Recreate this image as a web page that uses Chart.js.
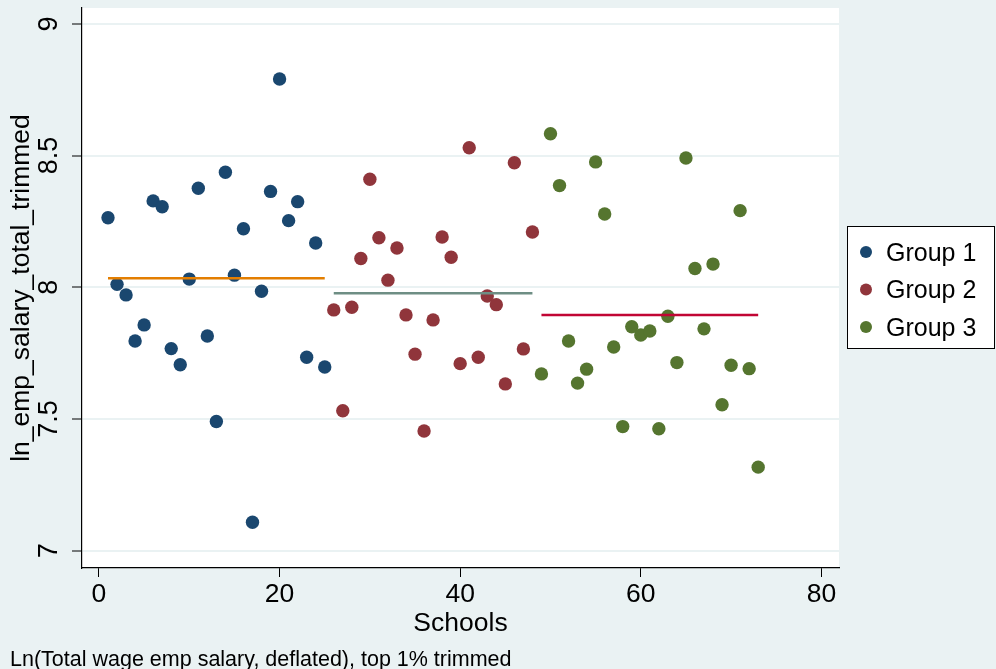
<!DOCTYPE html>
<html lang="en">
<head>
<meta charset="UTF-8" />
<title>ln_emp_salary_total_trimmed by school</title>
<script src="https://cdn.jsdelivr.net/npm/chart.js"></script>
<style>
  body { margin: 0; background: #eaf2f3; }
  #wrap { width: 996px; height: 669px; }
</style>
</head>
<body>
<div id="wrap"><canvas id="scatterChart" width="996" height="669"></canvas></div>
<script>
// schools 1-25, 26-48, 49-73
const group1 = [8.264, 8.011, 7.971, 7.796, 7.857, 8.328, 8.306, 7.767, 7.706, 8.031,
  8.376, 7.815, 7.490, 8.437, 8.046, 8.222, 7.108, 7.985, 8.364, 8.791,
  8.253, 8.325, 7.734, 8.168, 7.697];
const group2 = [7.914, 7.531, 7.924, 8.109, 8.410, 8.188, 8.027, 8.149, 7.895, 7.746,
  7.454, 7.876, 8.191, 8.114, 7.710, 8.530, 7.734, 7.967, 7.934, 7.633,
  8.473, 7.766, 8.210];
const group3 = [7.671, 8.583, 8.386, 7.796, 7.636, 7.689, 8.476, 8.278, 7.773, 7.471,
  7.850, 7.819, 7.834, 7.463, 7.890, 7.714, 8.491, 8.071, 7.842, 8.088,
  7.554, 7.704, 8.291, 7.691, 7.317];
const groupStart = [1, 26, 49];
const groupMeans = [8.034, 7.977, 7.895];
const groupNames = ["Group 1", "Group 2", "Group 3"];
const xTicks = [0, 20, 40, 60, 80];
const yTicks = [7, 7.5, 8, 8.5, 9];

const dotColors = ["#1a476f", "#90353b", "#55752f"];
const meanColors = ["#e37e00", "#6e8e84", "#c10534"];
const FONT = "'Liberation Sans', Arial, sans-serif";

const groups = [group1, group2, group3];
const datasets = [];
groups.forEach((vals, g) => {
  const pts = vals.map((v, i) => ({ x: groupStart[g] + i, y: v }));
  datasets.push({
    type: "scatter",
    label: groupNames[g],
    data: pts,
    backgroundColor: dotColors[g],
    borderWidth: 0,
    pointRadius: 6.7,
    order: 2,
  });
  datasets.push({
    type: "line",
    label: groupNames[g] + " mean",
    data: [
      { x: pts[0].x, y: groupMeans[g] },
      { x: pts[pts.length - 1].x, y: groupMeans[g] },
    ],
    borderColor: meanColors[g],
    borderWidth: 2.5,
    pointRadius: 0,
    fill: false,
    order: 1,
  });
});

const stataBackground = {
  id: "stataBackground",
  beforeDraw(chart) {
    const { ctx, chartArea } = chart;
    ctx.save();
    ctx.fillStyle = "#eaf2f3";
    ctx.fillRect(0, 0, chart.width, chart.height);
    ctx.fillStyle = "#ffffff";
    ctx.fillRect(chartArea.left, chartArea.top,
      chartArea.right - chartArea.left, chartArea.bottom - chartArea.top);
    ctx.restore();
  },
};

const extras = {
  id: "extras",
  afterDraw(chart) {
    const { ctx } = chart;
    const yScale = chart.scales.y;
    ctx.save();
    ctx.fillStyle = "#000";

    // rotated y tick labels
    ctx.font = "27px " + FONT;
    ctx.textAlign = "center";
    ctx.textBaseline = "alphabetic";
    yTicks.forEach((v) => {
      ctx.save();
      ctx.translate(57, yScale.getPixelForValue(v));
      ctx.rotate(-Math.PI / 2);
      ctx.fillText(String(v), 0, 0);
      ctx.restore();
    });

    // note
    ctx.textAlign = "left";
    ctx.font = "21.5px " + FONT;
    ctx.fillText("Ln(Total wage emp salary, deflated), top 1% trimmed", 10, 666);

    // legend
    const bx = 847.5, by = 226.5, bw = 147, bh = 122;
    ctx.fillStyle = "#fff";
    ctx.fillRect(bx, by, bw, bh);
    ctx.strokeStyle = "#000";
    ctx.lineWidth = 1;
    ctx.strokeRect(bx, by, bw, bh);
    groupNames.forEach((name, i) => {
      const cy = 252 + i * 37.5;
      ctx.fillStyle = dotColors[i];
      ctx.beginPath();
      ctx.arc(866, cy, 6, 0, Math.PI * 2);
      ctx.fill();
      ctx.fillStyle = "#000";
      ctx.font = "25px " + FONT;
      ctx.fillText(name, 886, cy + 8.5);
    });
    ctx.restore();
  },
};

new Chart(document.getElementById("scatterChart"), {
  type: "scatter",
  data: { datasets: datasets },
  options: {
    responsive: false,
    devicePixelRatio: 1,
    animation: false,
    events: [],
    layout: { padding: { top: 8, right: 157, left: 0, bottom: 0 } },
    plugins: { legend: { display: false }, tooltip: { enabled: false } },
    scales: {
      x: {
        type: "linear",
        min: -1.88,
        max: 81.95,
        afterBuildTicks: (scale) => {
          scale.ticks = xTicks.map((v) => ({ value: v }));
        },
        afterFit: (scale) => {
          scale.height = 101;
        },
        grid: {
          drawOnChartArea: false,
          drawTicks: true,
          tickLength: 9,
          tickColor: "#000",
          tickWidth: 1,
        },
        border: { display: true, color: "#000", width: 1.2 },
        ticks: {
          color: "#000",
          font: { family: FONT, size: 26.5 },
          padding: 2,
          maxRotation: 0,
        },
        title: {
          display: true,
          text: "Schools",
          color: "#000",
          font: { family: FONT, size: 26.5 },
          padding: { top: 0, bottom: 29 },
        },
      },
      y: {
        type: "linear",
        min: 6.934,
        max: 9.0604,
        afterBuildTicks: (scale) => {
          scale.ticks = yTicks.map((v) => ({ value: v }));
        },
        afterFit: (scale) => {
          scale.width = 82;
        },
        grid: {
          color: "#eaf2f3",
          lineWidth: 2,
          drawTicks: true,
          tickLength: 10,
          tickColor: "#000",
          tickWidth: 1,
        },
        border: { display: true, color: "#000", width: 1.2 },
        ticks: { display: false },
        title: {
          display: true,
          text: "ln_emp_salary_total_trimmed",
          color: "#000",
          font: { family: FONT, size: 26.5 },
          padding: { top: 6, bottom: 0 },
        },
      },
    },
  },
  plugins: [stataBackground, extras],
});
</script>
</body>
</html>
